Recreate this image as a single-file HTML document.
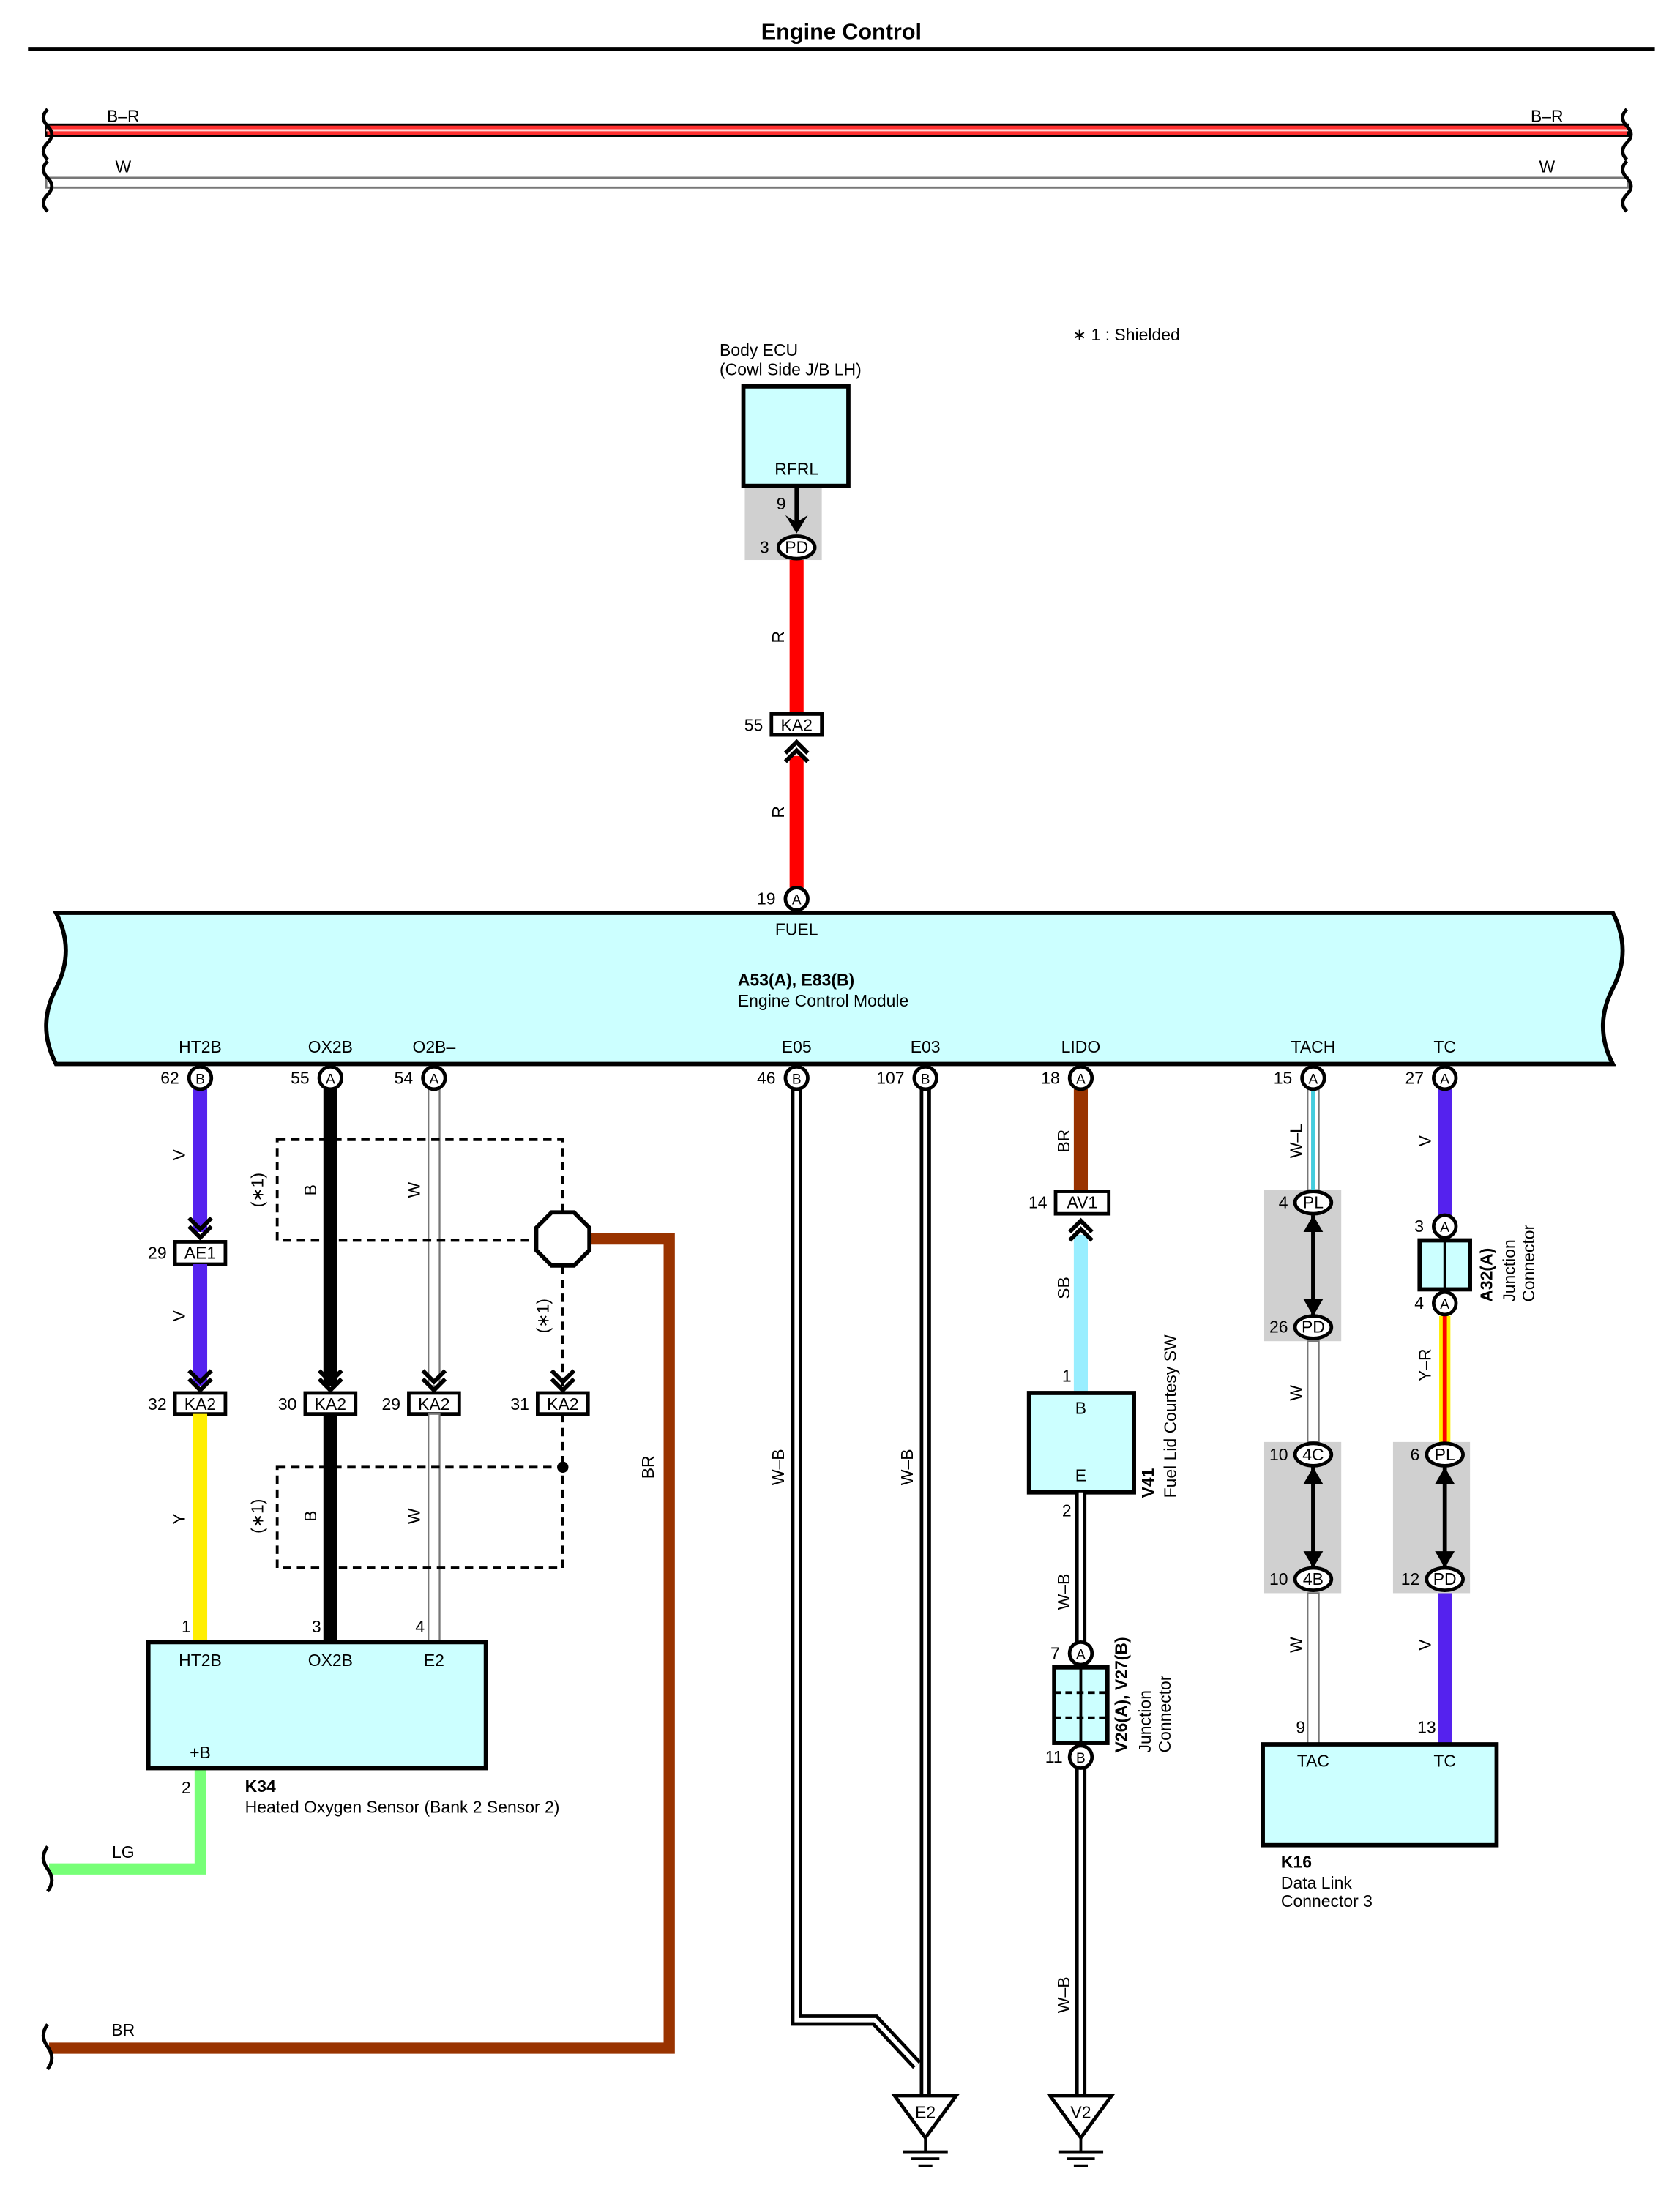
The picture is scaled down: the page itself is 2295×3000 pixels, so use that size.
<!DOCTYPE html>
<html><head><meta charset="utf-8"><style>
html,body{margin:0;padding:0;background:#fff}
svg{display:block}
text{font-family:"Liberation Sans",Arial,sans-serif;font-size:12px;fill:#000}
.c{text-anchor:middle}
.r{text-anchor:end}
.b{font-weight:bold}
</style></head><body>
<svg width="2295" height="3000" viewBox="0 0 1200 1568.6" xmlns="http://www.w3.org/2000/svg">
<defs>
<g id="chvD"><polyline points="-8,-8 0,0 8,-8" fill="none" stroke="#000" stroke-width="3"/><polyline points="-8,-14 0,-6 8,-14" fill="none" stroke="#000" stroke-width="3"/></g>
<g id="chvU"><polyline points="-8,8 0,0 8,8" fill="none" stroke="#000" stroke-width="3"/><polyline points="-8,14 0,6 8,14" fill="none" stroke="#000" stroke-width="3"/></g>
<g id="gnd"><polygon points="-22,0 22,0 0,30" fill="#fff" stroke="#000" stroke-width="2.5"/><line x1="0" y1="30" x2="0" y2="40" stroke="#000" stroke-width="2"/><line x1="-16" y1="40" x2="16" y2="40" stroke="#000" stroke-width="2"/><line x1="-10" y1="45" x2="10" y2="45" stroke="#000" stroke-width="2"/><line x1="-5" y1="50" x2="5" y2="50" stroke="#000" stroke-width="2"/></g>
</defs>

<text x="601" y="28" class="c b" style="font-size:16px">Engine Control</text>
<line x1="20" y1="35" x2="1182" y2="35" stroke="#000" stroke-width="3"/>

<!-- top wires -->
<rect x="33" y="89" width="1130" height="8" fill="#ff3030" stroke="#000" stroke-width="1.5"/>
<line x1="33" y1="93" x2="1163" y2="93" stroke="#ffd0d0" stroke-width="1.5"/>
<rect x="33" y="127" width="1130" height="7" fill="#fff" stroke="#777" stroke-width="1.5"/>
<path d="M34,78 q-6,6 0,12 q6,6 0,12 q-6,6 0,12 M34,115 q-6,6 0,12 q6,6 0,12 q-6,6 0,12" fill="none" stroke="#000" stroke-width="2.5"/>
<path d="M1162,78 q-6,6 0,12 q6,6 0,12 q-6,6 0,12 M1162,115 q-6,6 0,12 q6,6 0,12 q-6,6 0,12" fill="none" stroke="#000" stroke-width="2.5"/>
<text x="88" y="87" class="c">B–R</text><text x="88" y="123" class="c">W</text>
<text x="1105" y="87" class="c">B–R</text><text x="1105" y="123" class="c">W</text>

<text x="766" y="243">∗ 1 : Shielded</text>

<!-- Body ECU -->
<text x="514" y="254">Body ECU</text><text x="514" y="268">(Cowl Side J/B LH)</text>
<rect x="532" y="348" width="55" height="52" fill="#d0d0d0"/>
<rect x="531" y="276" width="75" height="71" fill="#ccffff" stroke="#000" stroke-width="3"/>
<text x="569" y="339" class="c">RFRL</text>
<text x="558" y="364" class="c">9</text>
<line x1="569" y1="348" x2="569" y2="375" stroke="#000" stroke-width="3"/>
<polygon points="561,368 569,381 577,368 569,373" fill="#000"/>
<line x1="569" y1="400" x2="569" y2="510" stroke="#ff0000" stroke-width="10"/>
<ellipse cx="569" cy="391" rx="13" ry="8" fill="#fff" stroke="#000" stroke-width="2.5"/>
<text x="569" y="395" class="c">PD</text><text x="546" y="395" class="c">3</text>
<text x="560" y="455" class="c" transform="rotate(-90 560 455)">R</text>
<rect x="551" y="510" width="36" height="15" fill="#fff" stroke="#000" stroke-width="2.5"/>
<text x="569" y="522" class="c">KA2</text><text x="545" y="522" class="r">55</text>
<line x1="569" y1="540" x2="569" y2="634" stroke="#ff0000" stroke-width="10"/>
<use href="#chvU" x="569" y="530"/>
<text x="560" y="580" class="c" transform="rotate(-90 560 580)">R</text>
<circle cx="569" cy="642" r="8" fill="#fff" stroke="#000" stroke-width="2.5"/>
<text x="569" y="646" class="c" style="font-size:10px">A</text><text x="554" y="646" class="r">19</text>

<!-- ECM -->
<path d="M40,652 L1152,652 q14,27 0,54 q-14,27 0,54 L40,760 q-14,-27 0,-54 q14,-27 0,-54 Z" fill="#ccffff" stroke="#000" stroke-width="3"/>
<text x="569" y="668" class="c">FUEL</text>
<text x="527" y="704" class="b">A53(A), E83(B)</text>
<text x="527" y="719">Engine Control Module</text>
<text x="143" y="752" class="c">HT2B</text><text x="236" y="752" class="c">OX2B</text><text x="310" y="752" class="c">O2B–</text>
<text x="569" y="752" class="c">E05</text><text x="661" y="752" class="c">E03</text><text x="772" y="752" class="c">LIDO</text>
<text x="938" y="752" class="c">TACH</text><text x="1032" y="752" class="c">TC</text>

<!-- HT2B -->
<line x1="143" y1="778" x2="143" y2="880" stroke="#5522ee" stroke-width="10"/>
<use href="#chvD" x="143" y="884"/>
<rect x="125" y="887" width="36" height="16" fill="#fff" stroke="#000" stroke-width="2.5"/>
<text x="143" y="899" class="c">AE1</text><text x="119" y="899" class="r">29</text>
<line x1="143" y1="903" x2="143" y2="990" stroke="#5522ee" stroke-width="10"/>
<use href="#chvD" x="143" y="993"/>
<rect x="125" y="995" width="36" height="15" fill="#fff" stroke="#000" stroke-width="2.5"/>
<text x="143" y="1007" class="c">KA2</text><text x="119" y="1007" class="r">32</text>
<line x1="143" y1="1010" x2="143" y2="1173" stroke="#ffee00" stroke-width="10"/>
<text x="132" y="825" class="c" transform="rotate(-90 132 825)">V</text>
<text x="132" y="940" class="c" transform="rotate(-90 132 940)">V</text>
<text x="132" y="1085" class="c" transform="rotate(-90 132 1085)">Y</text>
<text x="133" y="1166" class="c">1</text>

<!-- OX2B -->
<line x1="236" y1="778" x2="236" y2="990" stroke="#000" stroke-width="10"/>
<use href="#chvD" x="236" y="993"/>
<rect x="218" y="995" width="36" height="15" fill="#fff" stroke="#000" stroke-width="2.5"/>
<text x="236" y="1007" class="c">KA2</text><text x="212" y="1007" class="r">30</text>
<line x1="236" y1="1010" x2="236" y2="1173" stroke="#000" stroke-width="10"/>
<text x="226" y="850" class="c" transform="rotate(-90 226 850)">B</text>
<text x="226" y="1083" class="c" transform="rotate(-90 226 1083)">B</text>
<text x="226" y="1166" class="c">3</text>

<!-- O2B- -->
<rect x="306" y="778" width="8" height="212" fill="#fff" stroke="#777" stroke-width="1.2"/>
<use href="#chvD" x="310" y="993"/>
<rect x="292" y="995" width="36" height="15" fill="#fff" stroke="#000" stroke-width="2.5"/>
<text x="310" y="1007" class="c">KA2</text><text x="286" y="1007" class="r">29</text>
<rect x="306" y="1010" width="8" height="163" fill="#fff" stroke="#777" stroke-width="1.2"/>
<text x="300" y="850" class="c" transform="rotate(-90 300 850)">W</text>
<text x="300" y="1083" class="c" transform="rotate(-90 300 1083)">W</text>
<text x="300" y="1166" class="c">4</text>

<!-- shields -->
<rect x="198" y="814" width="204" height="72" fill="none" stroke="#000" stroke-width="2" stroke-dasharray="6,4"/>
<rect x="198" y="1048" width="204" height="72" fill="none" stroke="#000" stroke-width="2" stroke-dasharray="6,4"/>
<line x1="402" y1="904" x2="402" y2="990" stroke="#000" stroke-width="2" stroke-dasharray="6,4"/>
<use href="#chvD" x="402" y="993"/>
<rect x="384" y="995" width="36" height="15" fill="#fff" stroke="#000" stroke-width="2.5"/>
<text x="402" y="1007" class="c">KA2</text><text x="378" y="1007" class="r">31</text>
<line x1="402" y1="1010" x2="402" y2="1048" stroke="#000" stroke-width="2" stroke-dasharray="6,4"/>
<circle cx="402" cy="1048" r="4" fill="#000"/>
<text x="188" y="850" class="c" transform="rotate(-90 188 850)">(∗1)</text>
<text x="188" y="1083" class="c" transform="rotate(-90 188 1083)">(∗1)</text>
<text x="392" y="940" class="c" transform="rotate(-90 392 940)">(∗1)</text>
<path d="M421,885 L478,885 L478,1463 L35,1463" fill="none" stroke="#993300" stroke-width="8"/>
<polygon points="394,866 410,866 421,877 421,893 410,904 394,904 383,893 383,877" fill="#fff" stroke="#000" stroke-width="3"/>
<text x="467" y="1048" class="c" transform="rotate(-90 467 1048)">BR</text>
<text x="88" y="1454" class="c">BR</text>
<path d="M34,1446 q-6,8 0,16 q6,8 0,16" fill="none" stroke="#000" stroke-width="2.5"/>

<!-- K34 -->
<path d="M143,1263 L143,1335 L35,1335" fill="none" stroke="#77ff77" stroke-width="8"/>
<path d="M34,1319 q-6,8 0,16 q6,8 0,16" fill="none" stroke="#000" stroke-width="2.5"/>
<text x="88" y="1327" class="c">LG</text>
<rect x="106" y="1173" width="241" height="90" fill="#ccffff" stroke="#000" stroke-width="3"/>
<text x="143" y="1190" class="c">HT2B</text><text x="236" y="1190" class="c">OX2B</text><text x="310" y="1190" class="c">E2</text>
<text x="143" y="1256" class="c">+B</text>
<text x="133" y="1281" class="c">2</text>
<text x="175" y="1280" class="b">K34</text>
<text x="175" y="1295">Heated Oxygen Sensor (Bank 2 Sensor 2)</text>

<!-- E05/E03 -->
<path d="M569,778 L569,1443 L625,1443 L655,1475" fill="none" stroke="#000" stroke-width="8"/>
<path d="M569,778 L569,1443 L625,1443 L655,1475" fill="none" stroke="#fff" stroke-width="3"/>
<line x1="661" y1="778" x2="661" y2="1497" stroke="#000" stroke-width="8"/>
<line x1="661" y1="778" x2="661" y2="1497" stroke="#fff" stroke-width="3"/>
<text x="560" y="1048" class="c" transform="rotate(-90 560 1048)">W–B</text>
<text x="652" y="1048" class="c" transform="rotate(-90 652 1048)">W–B</text>
<use href="#gnd" x="661" y="1497"/>
<text x="661" y="1513" class="c">E2</text>

<!-- LIDO -->
<line x1="772" y1="778" x2="772" y2="851" stroke="#993300" stroke-width="10"/>
<rect x="754" y="851" width="38" height="16" fill="#fff" stroke="#000" stroke-width="2.5"/>
<text x="773" y="863" class="c">AV1</text><text x="748" y="863" class="r">14</text>
<line x1="772" y1="882" x2="772" y2="995" stroke="#99eeff" stroke-width="10"/>
<use href="#chvU" x="772" y="872"/>
<text x="764" y="815" class="c" transform="rotate(-90 764 815)">BR</text>
<text x="764" y="920" class="c" transform="rotate(-90 764 920)">SB</text>
<text x="762" y="987" class="c">1</text>
<rect x="735" y="995" width="75" height="71" fill="#ccffff" stroke="#000" stroke-width="3"/>
<text x="772" y="1010" class="c">B</text><text x="772" y="1058" class="c">E</text>
<text x="762" y="1083" class="c">2</text>
<line x1="772" y1="1066" x2="772" y2="1497" stroke="#000" stroke-width="8"/>
<line x1="772" y1="1066" x2="772" y2="1497" stroke="#fff" stroke-width="3"/>
<text x="764" y="1137" class="c" transform="rotate(-90 764 1137)">W–B</text>
<text x="764" y="1425" class="c" transform="rotate(-90 764 1425)">W–B</text>
<text x="824" y="1070" class="b" transform="rotate(-90 824 1070)">V41</text>
<text x="840" y="1070" transform="rotate(-90 840 1070)">Fuel Lid Courtesy SW</text>
<rect x="753" y="1191" width="38" height="54" fill="#ccffff" stroke="#000" stroke-width="3"/>
<line x1="772" y1="1191" x2="772" y2="1245" stroke="#000" stroke-width="2"/>
<line x1="753" y1="1209" x2="791" y2="1209" stroke="#000" stroke-width="2" stroke-dasharray="5,3"/>
<line x1="753" y1="1227" x2="791" y2="1227" stroke="#000" stroke-width="2" stroke-dasharray="5,3"/>
<circle cx="772" cy="1181" r="8" fill="#fff" stroke="#000" stroke-width="2.5"/>
<text x="772" y="1185" class="c" style="font-size:10px">A</text><text x="757" y="1185" class="r">7</text>
<circle cx="772" cy="1255" r="8" fill="#fff" stroke="#000" stroke-width="2.5"/>
<text x="772" y="1259" class="c" style="font-size:10px">B</text><text x="759" y="1259" class="r">11</text>
<text x="805" y="1252" class="b" transform="rotate(-90 805 1252)">V26(A), V27(B)</text>
<text x="822" y="1252" transform="rotate(-90 822 1252)">Junction</text>
<text x="836" y="1252" transform="rotate(-90 836 1252)">Connector</text>
<use href="#gnd" x="772" y="1497"/>
<text x="772" y="1513" class="c">V2</text>

<!-- TACH -->
<rect x="903" y="850" width="55" height="108" fill="#d0d0d0"/>
<rect x="903" y="1030" width="55" height="108" fill="#d0d0d0"/>
<rect x="934" y="778" width="8" height="72" fill="#fff" stroke="#777" stroke-width="1.2"/>
<line x1="938" y1="778" x2="938" y2="850" stroke="#44ccdd" stroke-width="3"/>
<rect x="934" y="958" width="8" height="72" fill="#fff" stroke="#777" stroke-width="1.2"/>
<rect x="934" y="1138" width="8" height="108" fill="#fff" stroke="#777" stroke-width="1.2"/>
<line x1="938" y1="868" x2="938" y2="940" stroke="#000" stroke-width="3"/>
<polygon points="931,880 938,868 945,880" fill="#000"/><polygon points="931,928 938,940 945,928" fill="#000"/>
<line x1="938" y1="1048" x2="938" y2="1120" stroke="#000" stroke-width="3"/>
<polygon points="931,1060 938,1048 945,1060" fill="#000"/><polygon points="931,1108 938,1120 945,1108" fill="#000"/>
<ellipse cx="938" cy="859" rx="13" ry="8" fill="#fff" stroke="#000" stroke-width="2.5"/><text x="938" y="863" class="c">PL</text><text x="920" y="863" class="r">4</text>
<ellipse cx="938" cy="948" rx="13" ry="8" fill="#fff" stroke="#000" stroke-width="2.5"/><text x="938" y="952" class="c">PD</text><text x="920" y="952" class="r">26</text>
<ellipse cx="938" cy="1039" rx="13" ry="8" fill="#fff" stroke="#000" stroke-width="2.5"/><text x="938" y="1043" class="c">4C</text><text x="920" y="1043" class="r">10</text>
<ellipse cx="938" cy="1128" rx="13" ry="8" fill="#fff" stroke="#000" stroke-width="2.5"/><text x="938" y="1132" class="c">4B</text><text x="920" y="1132" class="r">10</text>
<text x="930" y="815" class="c" transform="rotate(-90 930 815)">W–L</text>
<text x="930" y="995" class="c" transform="rotate(-90 930 995)">W</text>
<text x="930" y="1175" class="c" transform="rotate(-90 930 1175)">W</text>
<text x="929" y="1238" class="c">9</text>

<!-- TC -->
<rect x="995" y="1030" width="55" height="108" fill="#d0d0d0"/>
<line x1="1032" y1="778" x2="1032" y2="868" stroke="#5522ee" stroke-width="10"/>
<rect x="1028" y="940" width="8" height="90" fill="#ffee00"/>
<line x1="1032" y1="940" x2="1032" y2="1030" stroke="#ff0000" stroke-width="3"/>
<line x1="1032" y1="1138" x2="1032" y2="1246" stroke="#5522ee" stroke-width="10"/>
<rect x="1014" y="886" width="36" height="35" fill="#ccffff" stroke="#000" stroke-width="3"/>
<line x1="1032" y1="886" x2="1032" y2="921" stroke="#000" stroke-width="2"/>
<circle cx="1032" cy="876" r="8" fill="#fff" stroke="#000" stroke-width="2.5"/><text x="1032" y="880" class="c" style="font-size:10px">A</text><text x="1017" y="880" class="r">3</text>
<circle cx="1032" cy="931" r="8" fill="#fff" stroke="#000" stroke-width="2.5"/><text x="1032" y="935" class="c" style="font-size:10px">A</text><text x="1017" y="935" class="r">4</text>
<text x="1066" y="930" class="b" transform="rotate(-90 1066 930)">A32(A)</text>
<text x="1082" y="930" transform="rotate(-90 1082 930)">Junction</text>
<text x="1096" y="930" transform="rotate(-90 1096 930)">Connector</text>
<line x1="1032" y1="1048" x2="1032" y2="1120" stroke="#000" stroke-width="3"/>
<polygon points="1025,1060 1032,1048 1039,1060" fill="#000"/><polygon points="1025,1108 1032,1120 1039,1108" fill="#000"/>
<ellipse cx="1032" cy="1039" rx="13" ry="8" fill="#fff" stroke="#000" stroke-width="2.5"/><text x="1032" y="1043" class="c">PL</text><text x="1014" y="1043" class="r">6</text>
<ellipse cx="1032" cy="1128" rx="13" ry="8" fill="#fff" stroke="#000" stroke-width="2.5"/><text x="1032" y="1132" class="c">PD</text><text x="1014" y="1132" class="r">12</text>
<text x="1022" y="815" class="c" transform="rotate(-90 1022 815)">V</text>
<text x="1022" y="975" class="c" transform="rotate(-90 1022 975)">Y–R</text>
<text x="1022" y="1175" class="c" transform="rotate(-90 1022 1175)">V</text>
<text x="1019" y="1238" class="c">13</text>

<!-- K16 -->
<rect x="902" y="1246" width="167" height="72" fill="#ccffff" stroke="#000" stroke-width="3"/>
<text x="938" y="1262" class="c">TAC</text><text x="1032" y="1262" class="c">TC</text>
<text x="915" y="1334" class="b">K16</text>
<text x="915" y="1349">Data Link</text>
<text x="915" y="1362">Connector 3</text>

<!-- ECM pins -->
<g>
<circle cx="143" cy="770" r="8" fill="#fff" stroke="#000" stroke-width="2.5"/><text x="143" y="774" class="c" style="font-size:10px">B</text><text x="128" y="774" class="r">62</text>
<circle cx="236" cy="770" r="8" fill="#fff" stroke="#000" stroke-width="2.5"/><text x="236" y="774" class="c" style="font-size:10px">A</text><text x="221" y="774" class="r">55</text>
<circle cx="310" cy="770" r="8" fill="#fff" stroke="#000" stroke-width="2.5"/><text x="310" y="774" class="c" style="font-size:10px">A</text><text x="295" y="774" class="r">54</text>
<circle cx="569" cy="770" r="8" fill="#fff" stroke="#000" stroke-width="2.5"/><text x="569" y="774" class="c" style="font-size:10px">B</text><text x="554" y="774" class="r">46</text>
<circle cx="661" cy="770" r="8" fill="#fff" stroke="#000" stroke-width="2.5"/><text x="661" y="774" class="c" style="font-size:10px">B</text><text x="646" y="774" class="r">107</text>
<circle cx="772" cy="770" r="8" fill="#fff" stroke="#000" stroke-width="2.5"/><text x="772" y="774" class="c" style="font-size:10px">A</text><text x="757" y="774" class="r">18</text>
<circle cx="938" cy="770" r="8" fill="#fff" stroke="#000" stroke-width="2.5"/><text x="938" y="774" class="c" style="font-size:10px">A</text><text x="923" y="774" class="r">15</text>
<circle cx="1032" cy="770" r="8" fill="#fff" stroke="#000" stroke-width="2.5"/><text x="1032" y="774" class="c" style="font-size:10px">A</text><text x="1017" y="774" class="r">27</text>
</g>
</svg>
</body></html>
